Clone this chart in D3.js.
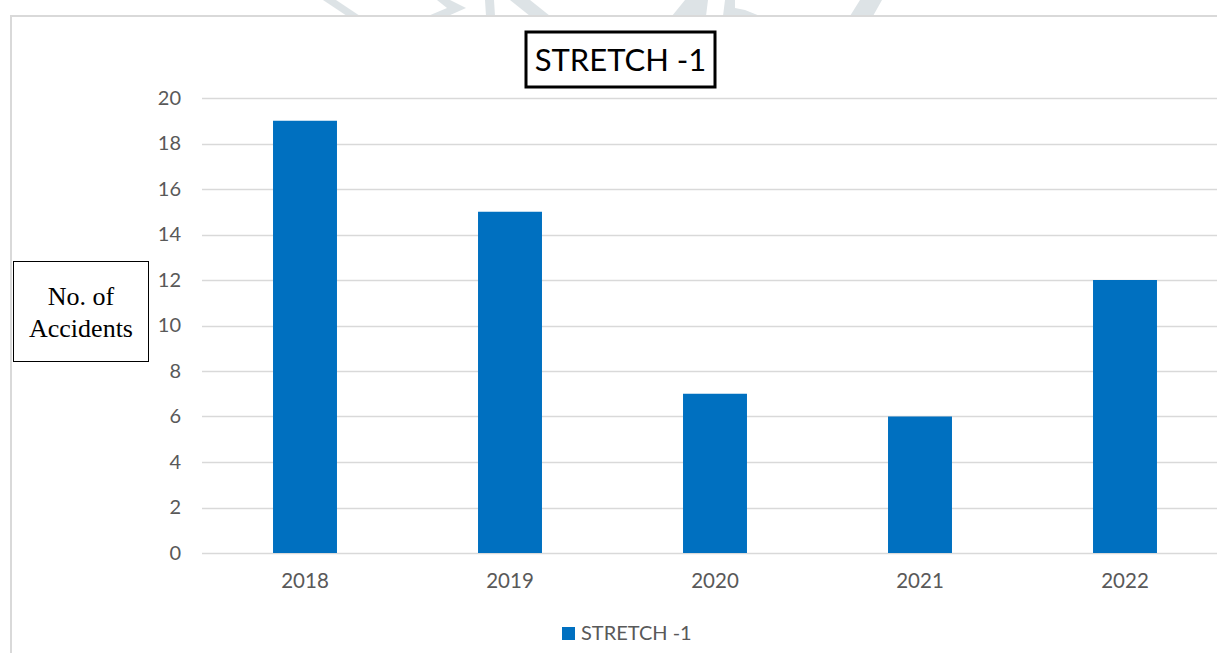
<!DOCTYPE html>
<html>
<head>
<meta charset="utf-8">
<script src="https://cdn.jsdelivr.net/npm/d3@7"></script>
<style>
  body { margin: 0; background: #fff; }
  svg { display: block; }
</style>
</head>
<body>
<div id="chart"></div>
<script>
// data
const years = ['2018', '2019', '2020', '2021', '2022'];
const accidents = [19, 15, 7, 6, 12];
const yTicks = [0, 2, 4, 6, 8, 10, 12, 14, 16, 18, 20];
const seriesName = 'STRETCH -1';
const yTitle = ['No. of', 'Accidents'];

const width = 1217;
const height = 653;
const sans = 'Lato, "Open Sans", sans-serif';

const svg = d3.select('#chart').append('svg')
  .attr('width', width)
  .attr('height', height);

// faint watermark peeking above the chart frame
const wm = svg.append('g').attr('fill', '#dde3e6');
[
  [[323, 0], [336, 0], [360, 16], [347, 16]],
  [[437, 0], [450, 0], [466, 8], [448, 16], [428, 16], [447, 8]],
  [[485, 0], [494, 0], [495, 16], [486, 16]],
  [[510, 0], [530, 0], [550, 16], [530, 16]],
  [[672, 16], [685, 0], [708, 0], [706, 16]],
  [[723, 16], [725, 0], [735, 0], [735, 8], [745, 10], [760, 16]],
  [[850, 16], [860, 0], [882, 0], [873, 16]]
].forEach(pts => wm.append('polygon').attr('points', pts.map(p => p.join(',')).join(' ')));

// chart frame
svg.append('rect')
  .attr('x', 11).attr('y', 16)
  .attr('width', width + 20).attr('height', height)
  .attr('fill', '#fff')
  .attr('stroke', '#d9d9d9')
  .attr('stroke-width', 2);

const x = d3.scaleBand()
  .domain(years)
  .range([202.5, 1227.5])
  .paddingInner(0.688)
  .paddingOuter(0.344);

const y = d3.scaleLinear()
  .domain([0, 20])
  .range([553, 98]);

// gridlines
svg.append('g')
  .selectAll('line')
  .data(yTicks)
  .join('line')
  .attr('x1', 202)
  .attr('x2', width)
  .attr('y1', d => Math.round(y(d)) + 0.5)
  .attr('y2', d => Math.round(y(d)) + 0.5)
  .attr('stroke', '#d9d9d9')
  .attr('stroke-width', 1.5);

// y axis labels
const yAxis = svg.append('g')
  .attr('transform', 'translate(181,0)')
  .call(d3.axisLeft(y).tickValues(yTicks).tickSize(0).tickPadding(0));
yAxis.select('.domain').remove();
yAxis.selectAll('text')
  .attr('font-family', sans)
  .attr('font-size', 20)
  .attr('fill', '#595959');

// bars
svg.append('g')
  .selectAll('rect')
  .data(accidents)
  .join('rect')
  .attr('x', (d, i) => x(years[i]))
  .attr('y', d => y(d))
  .attr('width', x.bandwidth())
  .attr('height', d => y(0) - y(d))
  .attr('fill', '#0070c0');

// x axis labels
const xAxis = svg.append('g')
  .attr('transform', `translate(0,${y(0) + 20})`)
  .call(d3.axisBottom(x).tickSize(0).tickPadding(0));
xAxis.select('.domain').remove();
xAxis.selectAll('text')
  .attr('font-family', sans)
  .attr('font-size', 20.5)
  .attr('fill', '#595959');

// title box
const titleCx = 620.5;
svg.append('rect')
  .attr('x', 526).attr('y', 32)
  .attr('width', 189).attr('height', 55)
  .attr('fill', '#fff')
  .attr('stroke', '#000')
  .attr('stroke-width', 3);
svg.append('text')
  .attr('x', titleCx).attr('y', 71)
  .attr('text-anchor', 'middle')
  .attr('font-family', sans)
  .attr('font-size', 31)
  .attr('fill', '#000')
  .text(seriesName);

// y axis title box
svg.append('rect')
  .attr('x', 13.5).attr('y', 261.5)
  .attr('width', 135).attr('height', 100)
  .attr('fill', '#fff')
  .attr('stroke', '#000')
  .attr('stroke-width', 1);
svg.append('g')
  .selectAll('text')
  .data(yTitle)
  .join('text')
  .attr('x', 81)
  .attr('y', (d, i) => 305 + i * 32)
  .attr('text-anchor', 'middle')
  .attr('font-family', '"Liberation Serif", "Times New Roman", serif')
  .attr('font-size', 26)
  .attr('fill', '#000')
  .text(d => d);

// legend
svg.append('rect')
  .attr('x', 562).attr('y', 627)
  .attr('width', 13).attr('height', 13)
  .attr('fill', '#0070c0');
svg.append('text')
  .attr('x', 581).attr('y', 640)
  .attr('font-family', sans)
  .attr('font-size', 20)
  .attr('fill', '#595959')
  .text(seriesName);
</script>
</body>
</html>
